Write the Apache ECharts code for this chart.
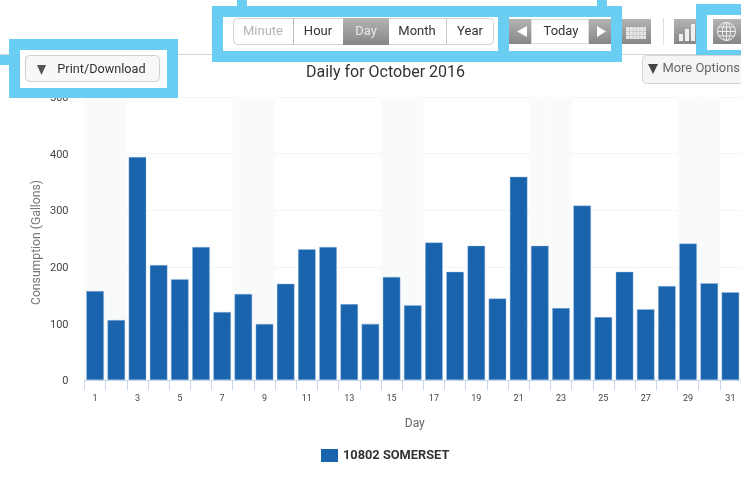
<!DOCTYPE html>
<html>
<head>
<meta charset="utf-8">
<style>
  html, body { margin: 0; padding: 0; background: #fff; }
  #box { width: 741px; height: 489px; }
</style>
<script src="https://cdn.jsdelivr.net/npm/echarts@6/dist/echarts.min.js"></script>
</head>
<body>
<div id="box"></div>
<script>
var days = ["1","2","3","4","5","6","7","8","9","10","11","12","13","14","15","16","17","18","19","20","21","22","23","24","25","26","27","28","29","30","31"];
var gallons = [157,106,394,203,178,235,120,152,99,170,231,235,134,99,182,132,243,191,237,144,359,237,127,308,111,191,125,166,241,171,155];
// weekend days get a pale band behind the bars
var weekendBand = [500,500,0,0,0,0,0,500,500,0,0,0,0,0,500,500,0,0,0,0,0,500,500,0,0,0,0,0,500,500,0];
var seriesName = "10802 SOMERSET";

(function () {
    var myChart = echarts.init(document.getElementById("box"));
    var font = "Roboto";
    var cyan = "#6aceF2";
    var greyFill = { type: "linear", x: 0, y: 0, x2: 0, y2: 1, colorStops: [{ offset: 0, color: "#b4b4b4" }, { offset: 1, color: "#868686" }] };

    // page chrome around the chart, all drawn as graphic elements
    var parts = [];
    function rect(x, y, w, h, fill, stroke, r) {
        parts.push({ type: "rect", z: 100, shape: { x: x, y: y, width: w, height: h, r: r || 0 }, style: { fill: fill, stroke: stroke || null, lineWidth: stroke ? 1 : 0 } });
    }
    function label(x, y, t, size, color, align) {
        parts.push({ type: "text", z: 101, x: x, y: y, style: { text: t, font: size + "px " + font, fill: color, align: align || "center", verticalAlign: "middle" } });
    }
    function tri(points, fill) {
        parts.push({ type: "polygon", z: 101, shape: { points: points }, style: { fill: fill } });
    }
    function stroke(type, shape, color, w) {
        parts.push({ type: type, z: 101, shape: shape, style: { fill: null, stroke: color, lineWidth: w || 1 } });
    }

    // rule under the page header
    rect(0, 54, 741, 1, "#d6d6d6");

    // cyan highlight frames
    rect(0, 55, 9, 10, cyan);
    rect(9, 39, 169, 11, cyan);
    rect(9, 88, 169, 10, cyan);
    rect(9, 39, 11, 59, cyan);
    rect(167, 39, 11, 59, cyan);
    rect(20, 50, 147, 38, "#fff");

    rect(237, 0, 10, 6, cyan);
    rect(597, 0, 10, 6, cyan);
    rect(212, 6, 410, 11, cyan);
    rect(212, 51, 410, 11, cyan);
    rect(212, 6, 11, 56, cyan);
    rect(611, 6, 11, 56, cyan);
    rect(498, 6, 11, 56, cyan);
    rect(223, 17, 275, 34, "#fff");
    rect(509, 17, 102, 34, "#fff");

    rect(696, 4, 45, 11, cyan);
    rect(696, 50, 45, 11, cyan);
    rect(696, 4, 11, 57, cyan);
    rect(707, 15, 34, 35, "#fff");

    // print button
    rect(25.5, 55.5, 134, 26, "#f8f8f8", "#cfcfcf", 4);
    tri([[37, 65], [46, 65], [41.5, 75]], "#555");
    label(101.5, 69.5, "Print/Download", 12.7, "#333");

    // range buttons
    rect(233.5, 18.5, 260, 26, "#fff", "#d2d2d2", 4);
    label(263, 31.5, "Minute", 13, "#b5b5b5");
    rect(293, 18, 1, 27, "#bdbdbd");
    label(318, 31.5, "Hour", 13, "#333");
    rect(343, 18, 46, 27, greyFill);
    label(366, 31.5, "Day", 13, "#e8e8e8");
    label(417, 31.5, "Month", 13, "#333");
    rect(446, 18, 1, 27, "#c8c8c8");
    label(470, 31.5, "Year", 13, "#333");

    // today navigation
    rect(509, 19, 22, 25, greyFill);
    tri([[527, 26], [527, 37], [517, 31.5]], "#fff");
    rect(531.5, 19.5, 57, 24, "#fff", "#dcdcdc");
    label(561, 31.5, "Today", 13, "#333");
    rect(589, 19, 22, 25, greyFill);
    tri([[597, 26], [597, 37], [606, 31.5]], "#fff");

    // calendar icon button
    rect(622, 19, 29, 25, greyFill);
    rect(626, 27, 20, 12, "#e6e6e6");
    for (var i = 1; i < 6; i++) { rect(626 + i * 3.4, 27, 0.6, 12, "#bdbdbd"); }
    for (var j = 1; j < 3; j++) { rect(626, 27 + j * 4, 20, 0.6, "#bdbdbd"); }

    // divider and column chart icon
    rect(663, 18, 1, 27, "#dedede");
    rect(674, 19, 22, 25, greyFill);
    rect(679, 34, 4, 7, "#f0f0f0");
    rect(685, 29, 4, 12, "#f0f0f0");
    rect(691, 24, 4, 17, "#f0f0f0");

    // globe icon button
    rect(713, 19, 28, 25, greyFill);
    stroke("circle", { cx: 726.5, cy: 31.5, r: 9 }, "#eee");
    stroke("ellipse", { cx: 726.5, cy: 31.5, rx: 4, ry: 9 }, "#eee");
    stroke("line", { x1: 726.5, y1: 22.5, x2: 726.5, y2: 40.5 }, "#eee");
    stroke("line", { x1: 717.5, y1: 31.5, x2: 735.5, y2: 31.5 }, "#eee");
    stroke("line", { x1: 719, y1: 27, x2: 734, y2: 27 }, "#eee");
    stroke("line", { x1: 719, y1: 36, x2: 734, y2: 36 }, "#eee");

    // more options button
    rect(642.5, 55.5, 110, 28, "#f5f5f7", "#d4d4d4", 4);
    tri([[648, 64], [658, 64], [653, 74]], "#444");
    label(662.5, 69, "More Options", 12.9, "#666", "left");

    var option = {
        animation: false,
        textStyle: { fontFamily: font },
        title: {
            text: "Daily for October 2016",
            left: 380.5,
            top: 60,
            textAlign: "center",
            textStyle: { fontFamily: font, fontSize: 16, fontWeight: "normal", color: "#333" }
        },
        legend: {
            data: [seriesName],
            left: 321,
            top: 449,
            padding: 0,
            itemWidth: 17,
            itemHeight: 13,
            itemGap: 5,
            icon: "rect",
            itemStyle: { borderWidth: 0 },
            textStyle: { fontFamily: font, fontSize: 12.8, fontWeight: "bold", color: "#333" }
        },
        grid: { left: 84.5, top: 97, width: 660, height: 283 },
        xAxis: [
            {
                type: "category",
                data: days,
                name: "Day",
                nameLocation: "middle",
                nameGap: 38,
                nameTextStyle: { fontSize: 12, color: "#666", padding: [0, 0, 0, 4] },
                axisLine: { lineStyle: { color: "#c6d7ea", width: 1 } },
                axisTick: { show: true, interval: 0, length: 10, lineStyle: { color: "#c6d7ea", width: 1 } },
                axisLabel: { interval: 1, fontSize: 9, margin: 14, color: "#444" }
            },
            // hidden twin axis so the weekend bands fill the whole category width
            { type: "category", data: days, show: false }
        ],
        yAxis: {
            type: "value",
            min: 0,
            max: 500,
            interval: 100,
            name: "Consumption (Gallons)",
            nameLocation: "middle",
            nameGap: 42,
            nameMoveOverlap: false,
            nameTextStyle: { fontSize: 12.2, color: "#777", padding: [0, 8, 0, 0] },
            axisLine: { show: false },
            axisTick: { show: false },
            // labels sit a little below their grid lines in the reference
            axisLabel: { fontSize: 11, margin: 16, color: "#444", verticalAlign: "top", lineHeight: 3 },
            splitLine: { lineStyle: { color: "#f2f4f5", width: 1 } }
        },
        series: [
            {
                name: "weekend",
                type: "bar",
                xAxisIndex: 1,
                data: weekendBand,
                barWidth: "100%",
                silent: true,
                itemStyle: { color: "#f9fafa" },
                z: 1
            },
            {
                name: seriesName,
                type: "bar",
                data: gallons,
                barWidth: 17.5,
                itemStyle: { color: "#1a64ae", borderColor: "#9dbde0", borderWidth: 0.4 },
                z: 2
            }
        ],
        graphic: { elements: parts }
    };

    myChart.setOption(option);

    window.addEventListener("resize", function () {
        myChart.resize();
    });
})();
</script>
</body>
</html>
